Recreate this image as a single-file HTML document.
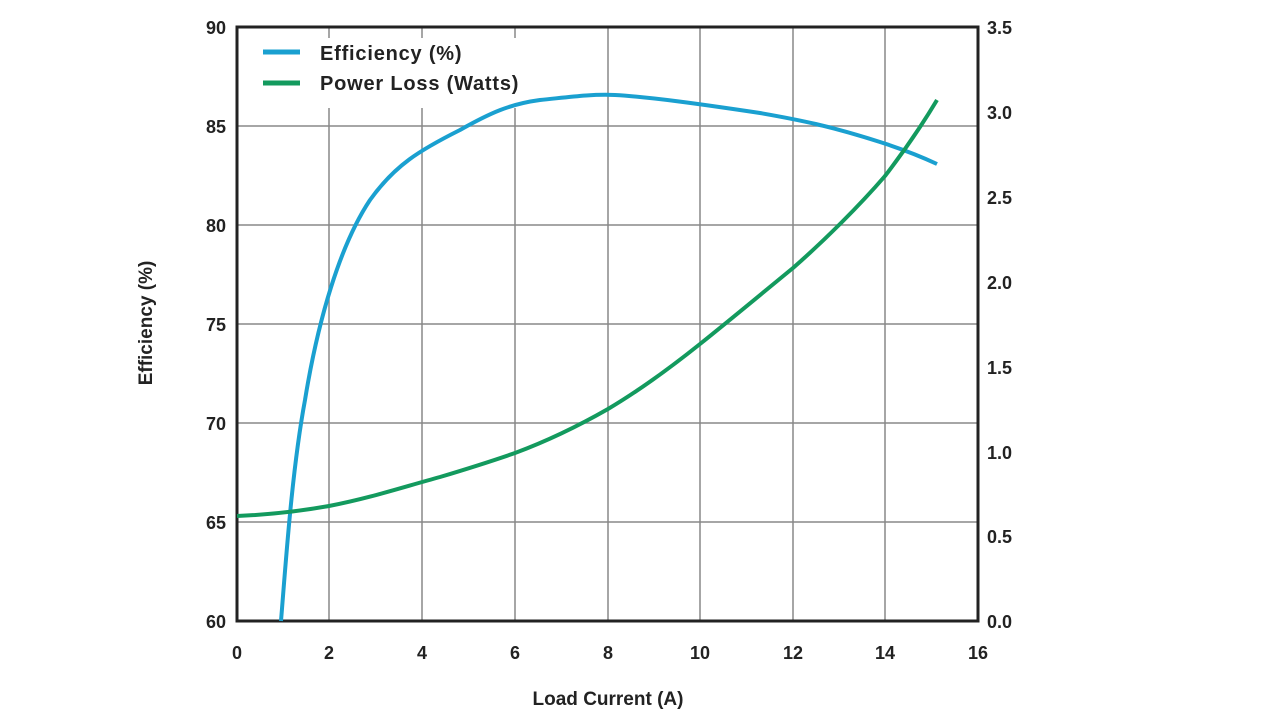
<!DOCTYPE html>
<html><head><meta charset="utf-8"><style>
body{margin:0;background:#fff;}
svg text{font-family:"Liberation Sans",sans-serif;font-weight:bold;fill:#222;}
</style></head><body>
<svg width="1280" height="721" viewBox="0 0 1280 721" xmlns="http://www.w3.org/2000/svg">
<g stroke="#888" stroke-width="1.5">
<line x1="329" y1="27" x2="329" y2="621"/><line x1="422" y1="27" x2="422" y2="621"/>
<line x1="515" y1="27" x2="515" y2="621"/><line x1="608" y1="27" x2="608" y2="621"/>
<line x1="700" y1="27" x2="700" y2="621"/><line x1="793" y1="27" x2="793" y2="621"/>
<line x1="885" y1="27" x2="885" y2="621"/>
<line x1="237" y1="126" x2="978" y2="126"/><line x1="237" y1="225" x2="978" y2="225"/>
<line x1="237" y1="324" x2="978" y2="324"/><line x1="237" y1="423" x2="978" y2="423"/>
<line x1="237" y1="522" x2="978" y2="522"/>
</g>
<rect x="240" y="38" width="310" height="70" fill="#fff"/>
<rect x="237" y="27" width="741" height="594" fill="none" stroke="#222" stroke-width="3"/>
<path d="M281,621 C286,560 292,470 305,400 C318,320 340,245 370,200 C395,165 420,150 460,130 C490,113 510,104 540,100 C570,97 590,94 615,95 C650,97 700,104 760,113 C800,120 830,126 880,142 C905,150 920,156 937,164" fill="none" stroke="#1aa0d0" stroke-width="4"/>
<path d="M237,516 C260,515 290,513 329,506 C370,498 400,488 440,477 C470,468 495,460 515,453 C550,440 580,425 608,409 C640,390 670,368 700,344 C730,320 760,295 793,268 C825,240 860,205 885,176 C905,150 922,125 937,100" fill="none" stroke="#139a5e" stroke-width="4"/>
<line x1="263" y1="52" x2="300" y2="52" stroke="#1aa0d0" stroke-width="5"/>
<line x1="263" y1="83" x2="300" y2="83" stroke="#139a5e" stroke-width="5"/>
<text x="320" y="60" font-size="20" letter-spacing="0.8">Efficiency (%)</text>
<text x="320" y="90" font-size="20" letter-spacing="0.8">Power Loss (Watts)</text>
<g font-size="18" text-anchor="end">
<text x="226" y="34">90</text><text x="226" y="133">85</text><text x="226" y="232">80</text>
<text x="226" y="331">75</text><text x="226" y="430">70</text><text x="226" y="529">65</text><text x="226" y="628">60</text>
</g>
<g font-size="18" text-anchor="start">
<text x="987" y="34">3.5</text><text x="987" y="119">3.0</text><text x="987" y="204">2.5</text>
<text x="987" y="289">2.0</text><text x="987" y="374">1.5</text><text x="987" y="459">1.0</text>
<text x="987" y="543">0.5</text><text x="987" y="628">0.0</text>
</g>
<g font-size="18" text-anchor="middle">
<text x="237" y="659">0</text><text x="329" y="659">2</text><text x="422" y="659">4</text>
<text x="515" y="659">6</text><text x="608" y="659">8</text><text x="700" y="659">10</text>
<text x="793" y="659">12</text><text x="885" y="659">14</text><text x="978" y="659">16</text>
<text x="608" y="705" font-size="19">Load Current (A)</text>
<text transform="translate(152,323) rotate(-90)" font-size="19">Efficiency (%)</text>
</g>
</svg>
</body></html>
